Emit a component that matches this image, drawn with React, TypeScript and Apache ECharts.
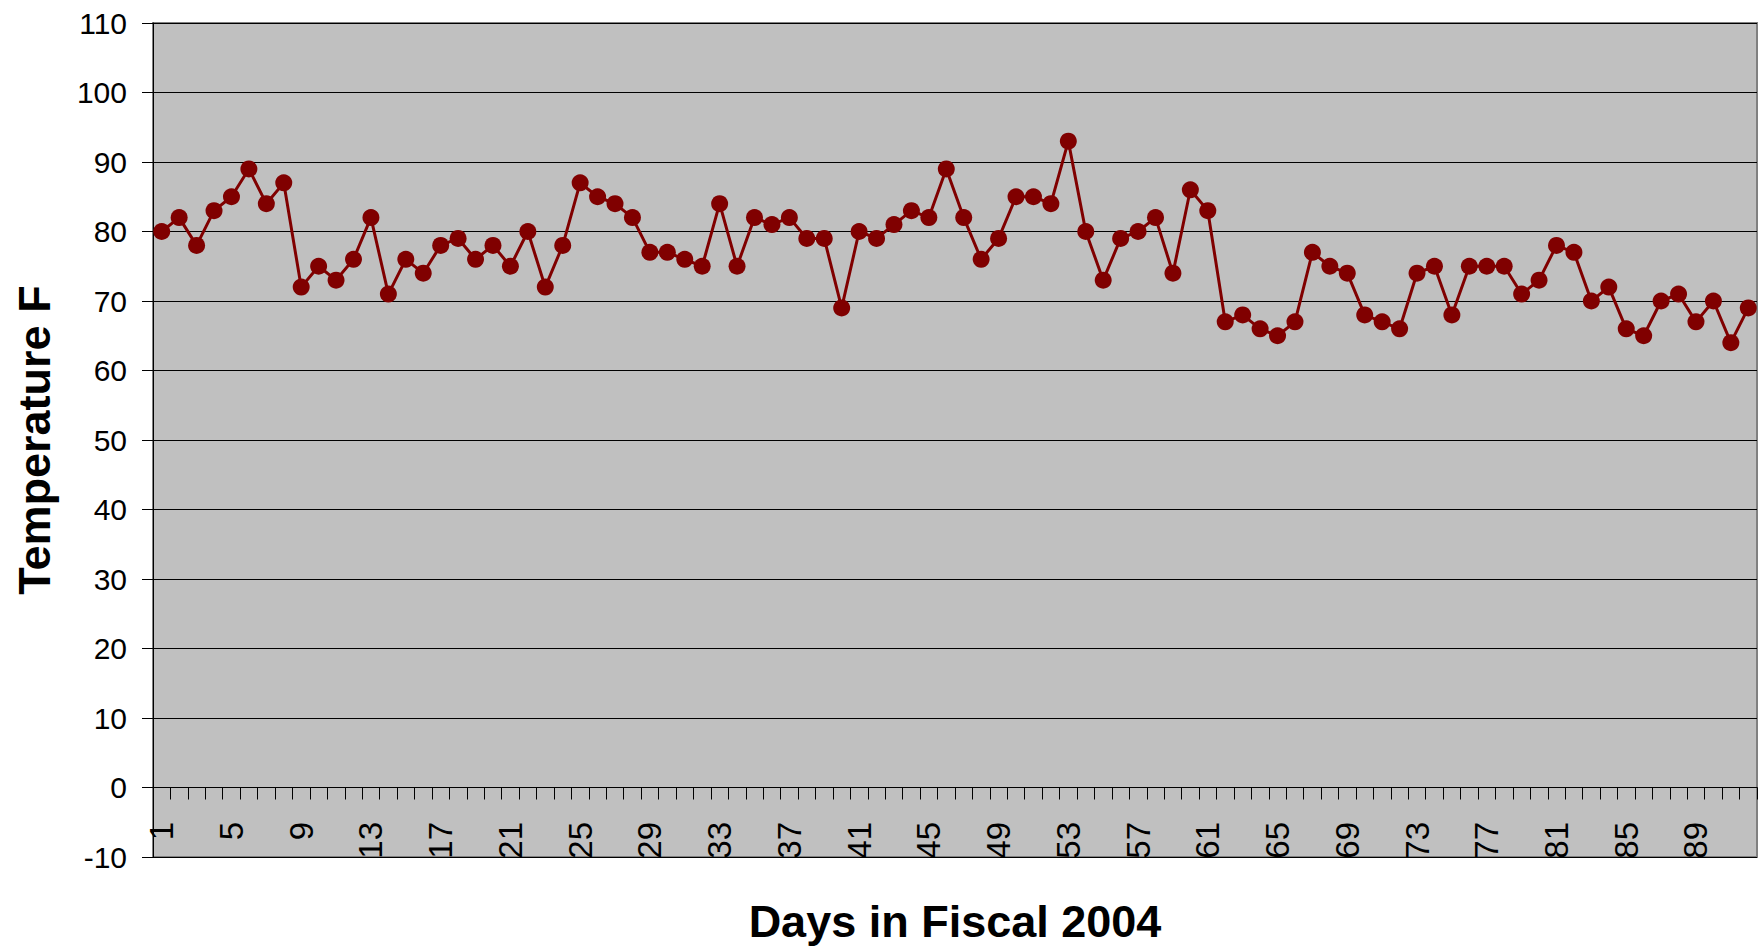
import React, { useEffect, useRef } from "react";
import * as echarts from "echarts";

const days: string[] = [
  "1","2","3","4","5","6","7","8","9","10","11","12","13","14","15","16","17","18","19","20",
  "21","22","23","24","25","26","27","28","29","30","31","32","33","34","35","36","37","38","39","40",
  "41","42","43","44","45","46","47","48","49","50","51","52","53","54","55","56","57","58","59","60",
  "61","62","63","64","65","66","67","68","69","70","71","72","73","74","75","76","77","78","79","80",
  "81","82","83","84","85","86","87","88","89","90","91","92",
];

const temperatures: number[] = [
  80, 82, 78, 83, 85, 89, 84, 87, 72, 75,
  73, 76, 82, 71, 76, 74, 78, 79, 76, 78,
  75, 80, 72, 78, 87, 85, 84, 82, 77, 77,
  76, 75, 84, 75, 82, 81, 82, 79, 79, 69,
  80, 79, 81, 83, 82, 89, 82, 76, 79, 85,
  85, 84, 93, 80, 73, 79, 80, 82, 74, 86,
  83, 67, 68, 66, 65, 67, 77, 75, 74, 68,
  67, 66, 74, 75, 68, 75, 75, 75, 71, 73,
  78, 77, 70, 72, 66, 65, 70, 71, 67, 70,
  64, 69,
];

const yAxisTitle = "Temperature F";
const xAxisTitle = "Days in Fiscal 2004";

const FONT = "'Liberation Sans', Arial, Helvetica, sans-serif";

export default function App() {
  const ref = useRef<HTMLDivElement>(null);

  useEffect(() => {
    if (!ref.current) return;
    const chart = echarts.init(ref.current, null, { renderer: "svg" });
    chart.setOption({
      animation: false,
      backgroundColor: "#ffffff",
      grid: {
        left: 153,
        top: 23,
        right: 5,
        bottom: 89,
        show: true,
        backgroundColor: "#C0C0C0",
        borderColor: "#808080",
        borderWidth: 2,
      },
      xAxis: {
        type: "category",
        data: days,
        boundaryGap: true,
        axisLine: { show: true, onZero: true, lineStyle: { color: "#000000", width: 1 } },
        axisTick: { show: true, interval: 0, length: 12, lineStyle: { color: "#000000", width: 1 } },
        axisLabel: {
          interval: 3,
          rotate: 90,
          margin: -35,
          fontSize: 33,
          color: "#000000",
          fontFamily: FONT,
        },
        splitLine: { show: false },
      },
      yAxis: {
        type: "value",
        min: -10,
        max: 110,
        interval: 10,
        axisLine: { show: true, lineStyle: { color: "#000000", width: 1 } },
        axisTick: { show: true, length: 11, lineStyle: { color: "#000000", width: 1 } },
        axisLabel: {
          margin: 26,
          fontSize: 30,
          color: "#000000",
          fontFamily: FONT,
        },
        splitLine: { show: true, lineStyle: { color: "#000000", width: 1 } },
      },
      graphic: [
        {
          type: "text",
          x: 34,
          y: 440,
          rotation: Math.PI / 2,
          style: {
            text: yAxisTitle,
            font: `bold 45px ${FONT}`,
            fill: "#000000",
            textAlign: "center",
            textVerticalAlign: "middle",
          },
        },
        {
          type: "text",
          x: 955,
          y: 921,
          style: {
            text: xAxisTitle,
            font: `bold 45px ${FONT}`,
            fill: "#000000",
            textAlign: "center",
            textVerticalAlign: "middle",
          },
        },
      ],
      series: [
        {
          type: "line",
          data: temperatures,
          symbol: "circle",
          symbolSize: 17,
          showAllSymbol: true,
          itemStyle: { color: "#800000" },
          lineStyle: { color: "#800000", width: 3 },
        },
      ],
    });
    return () => chart.dispose();
  }, []);

  return (
    <div
      ref={ref}
      style={{ position: "fixed", left: 0, top: 0, width: 1762, height: 946 }}
    />
  );
}
